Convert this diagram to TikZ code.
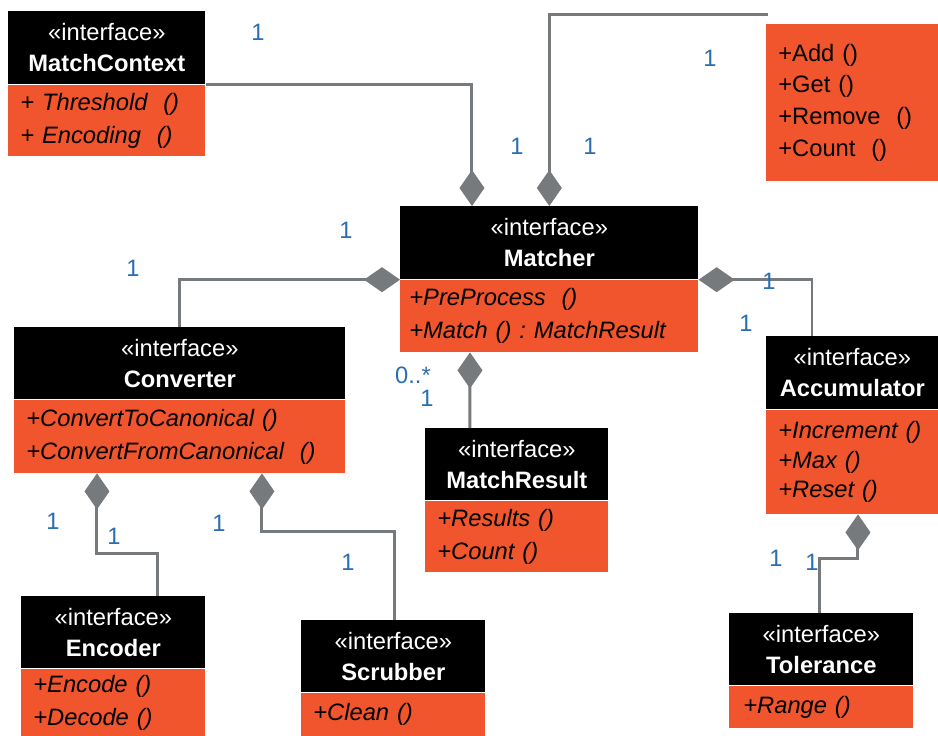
\documentclass[tikz,border=0pt]{standalone}
\usepackage{fontspec}
\setmainfont{Liberation Sans}
\usepackage{tikz}
\usetikzlibrary{arrows.meta}

\definecolor{umlred}{HTML}{F0552D}
\definecolor{umlgray}{HTML}{767A7D}
\definecolor{umlblue}{HTML}{296EB4}

\tikzset{
  head/.style={fill=black, text=white, anchor=north west, align=center, inner sep=0pt,
    font=\fontsize{13.5}{17.6}\selectfont},
  body/.style={fill=umlred, text=black, anchor=north west, align=left, inner ysep=0pt,
    inner xsep=0.24cm, font=\fontsize{13.5}{18.6}\selectfont\itshape},
  link/.style={umlgray, line width=1.7pt, -{Diamond[length=0.72cm, width=0.5cm]}},
  mult/.style={text=umlblue, inner sep=0pt, font=\fontsize{13.5}{16}\selectfont},
}

\begin{document}
\begin{tikzpicture}[x=0.02cm, y=-0.02cm]
        \useasboundingbox (0,0) rectangle (938,735);

        % classes
        \node[head, minimum width=3.94cm, minimum height=1.46cm] (mc-head) at (8,11) {«interface»\\\textbf{MatchContext}};
        \node[body, text width=3.46cm, minimum height=1.42cm] (mc-body) at (mc-head.south west) {+ Threshold\ \ ()\\+ Encoding\ \ ()};

        \node[body, text width=2.96cm, minimum height=3.14cm, font=\fontsize{13.5}{18.2}\selectfont] (ops) at (766,24) {+Add ()\\+Get ()\\+Remove\ \ ()\\+Count\ \ ()};

        \node[head, minimum width=5.96cm, minimum height=1.46cm] (mch-head) at (400,206) {«interface»\\\textbf{Matcher}};
        \node[body, text width=5.6cm, minimum height=1.44cm, inner xsep=0.18cm] (mch-body) at (mch-head.south west) {+PreProcess\ \ ()\\+Match () :\ MatchResult};

        \node[head, minimum width=6.62cm, minimum height=1.44cm] (conv-head) at (14,327) {«interface»\\\textbf{Converter}};
        \node[body, text width=6.14cm, minimum height=1.46cm] (conv-body) at (conv-head.south west) {+ConvertToCanonical ()\\+ConvertFromCanonical\ \ ()};

        \node[head, minimum width=3.44cm, minimum height=1.46cm] (acc-head) at (766,336) {«interface»\\\textbf{Accumulator}};
        \node[body, text width=2.96cm, minimum height=2.08cm, font=\fontsize{13.5}{16.8}\selectfont\itshape] (acc-body) at (acc-head.south west) {+Increment ()\\+Max ()\\+Reset ()};

        \node[head, minimum width=3.66cm, minimum height=1.44cm] (mr-head) at (425,428) {«interface»\\\textbf{MatchResult}};
        \node[body, text width=3.18cm, minimum height=1.42cm] (mr-body) at (mr-head.south west) {+Results ()\\+Count ()};

        \node[head, minimum width=3.68cm, minimum height=1.44cm] (enc-head) at (21,596) {«interface»\\\textbf{Encoder}};
        \node[body, text width=3.2cm, minimum height=1.34cm] (enc-body) at (enc-head.south west) {+Encode ()\\+Decode ()};

        \node[head, minimum width=3.68cm, minimum height=1.44cm] (scr-head) at (301,620) {«interface»\\\textbf{Scrubber}};
        \node[body, text width=3.2cm, minimum height=0.86cm] (scr-body) at (scr-head.south west) {+Clean ()};

        \node[head, minimum width=3.68cm, minimum height=1.44cm] (tol-head) at (729,613) {«interface»\\\textbf{Tolerance}};
        \node[body, text width=3.12cm, minimum height=0.84cm, inner xsep=0.28cm] (tol-body) at (tol-head.south west) {+Range ()};

        % composition lines
        \coordinate (ops-end) at (768,14);
        \draw[link] (mc-head.south east) -| ([xshift=1.44cm]mch-head.north west);
        \draw[link] (ops-end) -| (mch-head.north);
        \draw[link] (conv-head.north) |- (mch-head.south west);
        \draw[link] ([xshift=0.92cm]acc-head.north west) |- (mch-head.south east);
        \draw[link] ([xshift=0.9cm]mr-head.north west) -- ([xshift=1.4cm]mch-body.south west);
        \draw[link] ([xshift=2.74cm]enc-head.north west) |- ([xshift=1.66cm, yshift=-1.6cm]conv-body.south west) -- ([xshift=1.66cm]conv-body.south west);
        \draw[link] ([xshift=1.88cm]scr-head.north west) |- ([xshift=4.96cm, yshift=-1.16cm]conv-body.south west) -- ([xshift=4.96cm]conv-body.south west);
        \draw[link] ([xshift=1.82cm]tol-head.north west) |- ([xshift=1.84cm, yshift=-0.88cm]acc-body.south west) -- ([xshift=1.84cm]acc-body.south west);

        % multiplicities
        \foreach \x/\y [count=\i] in {258/32, 710/58, 517/146, 590/146, 346/230, 133/268, 769/281, 746/323,
                                      427/398, 53/521, 114/536, 219/523, 348/562, 776/558, 812/562}
            \node[mult] (one-\i) at (\x,\y) {1};
        \node[mult] (many) at (413,375) {0..*};
    \end{tikzpicture}
\end{document}
